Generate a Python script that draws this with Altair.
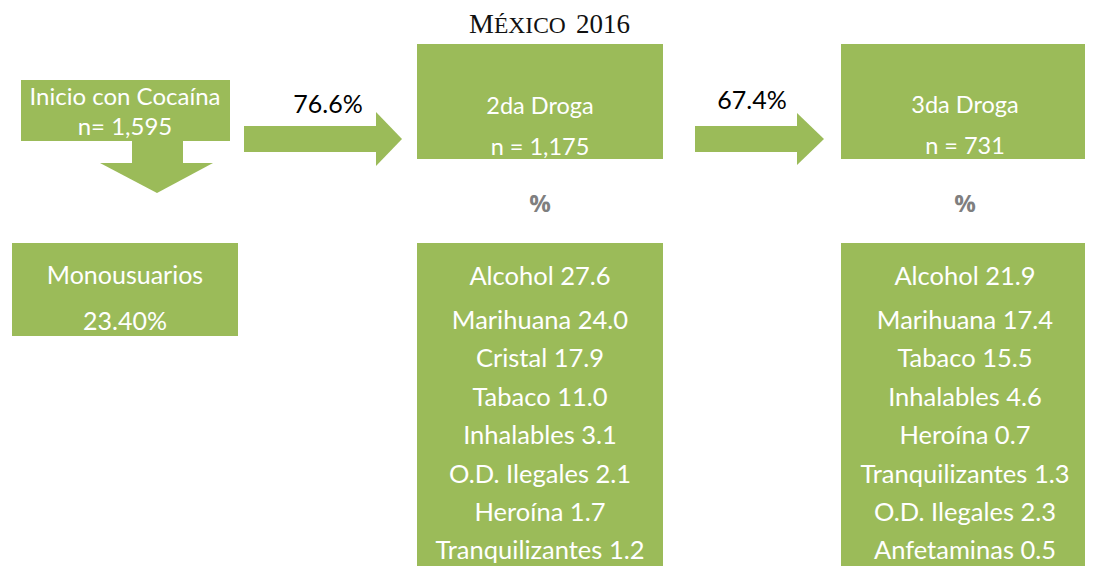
import altair as alt
import pandas as pd

# ---------------- data ----------------
title_text = ["M", "ÉXICO", "2016"]
stage_labels = ["Inicio con Cocaína", "2da Droga", "3da Droga"]
stage_n = [1595, 1175, 731]
transition_pct = [76.6, 67.4]
mono_label = "Monousuarios"
mono_pct = 23.40
drug2_names = ["Alcohol", "Marihuana", "Cristal", "Tabaco", "Inhalables",
               "O.D. Ilegales", "Heroína", "Tranquilizantes"]
drug2_values = [27.6, 24.0, 17.9, 11.0, 3.1, 2.1, 1.7, 1.2]
drug3_names = ["Alcohol", "Marihuana", "Tabaco", "Inhalables", "Heroína",
               "Tranquilizantes", "O.D. Ilegales", "Anfetaminas"]
drug3_values = [21.9, 17.4, 15.5, 4.6, 0.7, 1.3, 2.3, 0.5]

# ---------------- layout (diagram coordinates) ----------------
GREEN = "#9BBB59"
W, H = 1077, 558
XD = [8, 8 + W]
YD = [8, 8 + H]

boxes = pd.DataFrame([
    dict(x=21, x2=230, y=80, y2=141),      # stage 1
    dict(x=417, x2=663, y=44, y2=159),     # stage 2
    dict(x=841, x2=1089, y=44, y2=159),    # stage 3
    dict(x=12, x2=238, y=243, y2=336),     # monousuarios
    dict(x=417, x2=663, y=243, y2=566),    # list 2
    dict(x=841, x2=1089, y=243, y2=566),   # list 3
    dict(x=244, x2=376, y=126, y2=152),    # arrow stem 1
    dict(x=695, x2=797, y=126, y2=152),    # arrow stem 2
    dict(x=132, x2=183, y=141, y2=163),    # down arrow stem
])

right_heads = pd.DataFrame([
    dict(id="a1", x=376, y=112, y2=166),
    dict(id="a1", x=402, y=139, y2=139),
    dict(id="a2", x=797, y=113, y2=165),
    dict(id="a2", x=824, y=139, y2=139),
])
down_head = pd.DataFrame([
    dict(id="d", y=163, x=100, x2=213),
    dict(id="d", y=193, x=157, x2=157),
])

list_baselines = [285, 329, 367, 406, 444, 483, 521, 559]

white_rows = [
    dict(x=125, y=105, t=stage_labels[0], s=24),
    dict(x=125, y=135, t=f"n= {stage_n[0]:,}", s=24),
    dict(x=540, y=114, t=stage_labels[1], s=23.5),
    dict(x=540, y=155, t=f"n = {stage_n[1]:,}", s=23.5),
    dict(x=965, y=113, t=stage_labels[2], s=23.5),
    dict(x=965, y=154, t=f"n = {stage_n[2]:,}", s=23.5),
    dict(x=125, y=284, t=mono_label, s=25),
    dict(x=125, y=330, t=f"{mono_pct:.2f}%", s=25),
]
for nm, v, yb in zip(drug2_names, drug2_values, list_baselines):
    white_rows.append(dict(x=540, y=yb, t=f"{nm} {v:.1f}", s=25.5))
for nm, v, yb in zip(drug3_names, drug3_values, list_baselines):
    white_rows.append(dict(x=965, y=yb, t=f"{nm} {v:.1f}", s=25.5))
white_text = pd.DataFrame(white_rows)

black_text = pd.DataFrame([
    dict(x=328, y=113, t=f"{transition_pct[0]:.1f}%"),
    dict(x=752, y=109, t=f"{transition_pct[1]:.1f}%"),
])
gray_text = pd.DataFrame([
    dict(x=540, y=212, t="%"),
    dict(x=965, y=212, t="%"),
])
title_df = pd.DataFrame([
    dict(x=469, y=33, t=title_text[0], s=28, a="left"),
    dict(x=494, y=33, t=title_text[1], s=23.5, a="left"),
    dict(x=630, y=33, t=title_text[2], s=27, a="right"),
])

xs = alt.Scale(domain=XD, nice=False, zero=False)
ys = alt.Scale(domain=YD, nice=False, zero=False, reverse=True)
X = lambda f: alt.X(f, type="quantitative", scale=xs, axis=None)
Y = lambda f: alt.Y(f, type="quantitative", scale=ys, axis=None)

rects = alt.Chart(boxes).mark_rect(color=GREEN).encode(
    x=X("x"), x2="x2", y=Y("y"), y2="y2")

rheads = alt.Chart(right_heads).mark_area(color=GREEN, orient="vertical").encode(
    x=X("x"), y=Y("y"), y2="y2", detail="id:N")

dhead = alt.Chart(down_head).mark_area(color=GREEN, orient="horizontal").encode(
    y=Y("y"), x=X("x"), x2="x2", detail="id:N")

wtext = alt.Chart(white_text).mark_text(
    color="white", font="Lato", baseline="alphabetic", align="center").encode(
    x=X("x"), y=Y("y"), text="t:N", size=alt.Size("s:Q", scale=None))

btext = alt.Chart(black_text).mark_text(
    color="black", font="Lato", fontSize=25, baseline="alphabetic", align="center").encode(
    x=X("x"), y=Y("y"), text="t:N")

gtext = alt.Chart(gray_text).mark_text(
    color="#7F7F7F", font="Open Sans", fontWeight="bold", fontSize=24,
    baseline="alphabetic", align="center").encode(
    x=X("x"), y=Y("y"), text="t:N")

ttext_l = alt.Chart(title_df[title_df.a == "left"]).mark_text(
    color="#111111", font="Liberation Serif", baseline="alphabetic", align="left").encode(
    x=X("x"), y=Y("y"), text="t:N", size=alt.Size("s:Q", scale=None))
ttext_r = alt.Chart(title_df[title_df.a == "right"]).mark_text(
    color="#111111", font="Liberation Serif", baseline="alphabetic", align="right").encode(
    x=X("x"), y=Y("y"), text="t:N", size=alt.Size("s:Q", scale=None))

chart = alt.layer(rects, rheads, dhead, wtext, btext, gtext, ttext_l, ttext_r).properties(
    width=W, height=H, padding=0, autosize=alt.AutoSizeParams(type="none"),
).configure_view(stroke=None)

chart.save("out.html", embed_options={"renderer": "svg", "actions": False})
